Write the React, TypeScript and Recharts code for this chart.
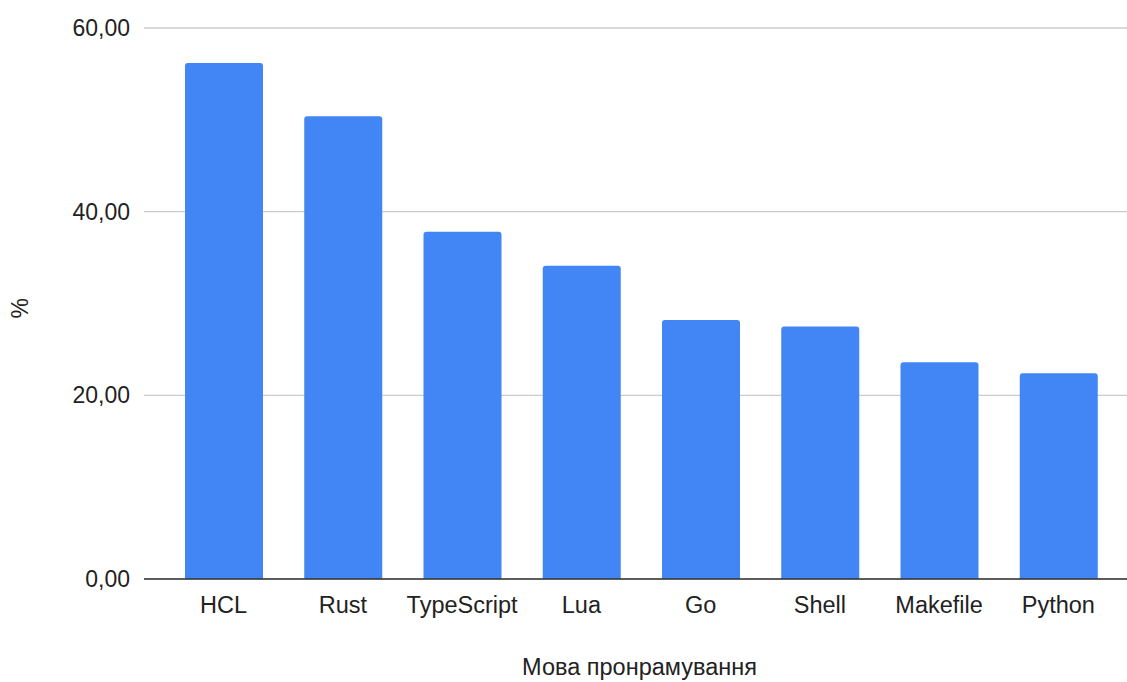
import React from "react";
import { BarChart, Bar, XAxis, YAxis, CartesianGrid } from "recharts";

// Languages and their share (%)
const languages: string[] = [
  "HCL",
  "Rust",
  "TypeScript",
  "Lua",
  "Go",
  "Shell",
  "Makefile",
  "Python",
];
const percents: number[] = [56.2, 50.4, 37.8, 34.1, 28.2, 27.5, 23.6, 22.4];
const yTicks: number[] = [0, 20, 40, 60];

const chartData = languages.map((name, i) => ({ name, value: percents[i] }));

const font = "'Liberation Sans', Arial, sans-serif";

const App: React.FC = () => {
  return (
    <div style={{ position: "absolute", top: 0, left: 0, background: "#fff" }}>
      <BarChart
        width={1127}
        height={682}
        data={chartData}
        margin={{ top: 28, right: 0, left: 0, bottom: 0 }}
        style={{ fontFamily: font }}
      >
        <CartesianGrid vertical={false} stroke="#cccccc" strokeWidth={1.3} />
        <XAxis
          dataKey="name"
          height={103}
          padding={{ left: 20, right: 9 }}
          tickLine={false}
          tickSize={0}
          tickMargin={17}
          axisLine={{ stroke: "#333333", strokeWidth: 1.5 }}
          tick={{ fill: "#222222", fontSize: 23.5 }}
          label={{
            value: "Мова пронрамування",
            position: "insideBottom",
            offset: 7,
            dx: 4,
            fill: "#222222",
            fontSize: 23.5,
          }}
        />
        <YAxis
          width={144}
          domain={[0, 60]}
          ticks={yTicks}
          axisLine={false}
          tickLine={false}
          tickSize={0}
          tickMargin={14}
          tick={{ fill: "#222222", fontSize: 23 }}
          tickFormatter={(v: number) => v.toFixed(2).replace(".", ",")}
          label={{
            value: "%",
            angle: -90,
            position: "insideLeft",
            offset: 20,
            dy: 15,
            fill: "#222222",
            fontSize: 23,
          }}
        />
        <Bar
          dataKey="value"
          fill="#4285f4"
          barSize={78}
          radius={[3, 3, 0, 0]}
          isAnimationActive={false}
        />
      </BarChart>
    </div>
  );
};

export default App;
